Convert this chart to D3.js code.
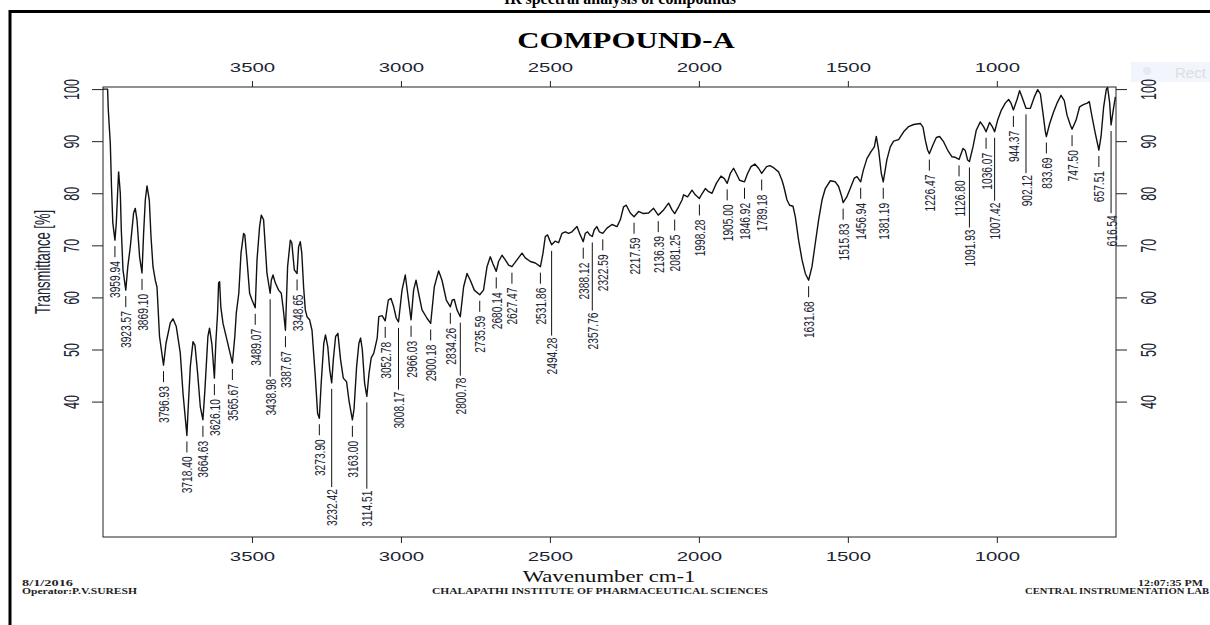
<!DOCTYPE html>
<html>
<head>
<meta charset="utf-8">
<script src="https://cdn.jsdelivr.net/npm/d3@7"></script>
<style>
  html, body { margin: 0; padding: 0; background: #fff; }
  svg { display: block; }
</style>
</head>
<body>
<svg id="chart" width="1210" height="625"></svg>
<script>
// IR spectrum of compound A: wavenumber (cm-1) and transmittance (%)
const wavenumber = [
  4000, 3984.6, 3982.2, 3975.5, 3971.5, 3967.1, 3959.94, 3955.4, 3951, 3947.6, 3941.9, 3938.6, 3932.9,
  3923.57, 3916.8, 3908.4, 3897.3, 3891.6, 3885.9, 3877.2, 3869.10, 3863.7, 3858, 3852.3, 3844.6,
  3838.9, 3832.2, 3824.5, 3818.8, 3816.9, 3810.3, 3796.93, 3788.5, 3774.1, 3765.1, 3754, 3740.6,
  3731.5, 3718.40, 3714.4, 3707, 3697.9, 3691.2, 3682.5, 3673.4, 3664.63, 3658, 3647.9, 3642.5,
  3634.5, 3626.10, 3621.4, 3615.4, 3612, 3608.6, 3604.6, 3597.2, 3583.8, 3565.67, 3557.6, 3552.6,
  3544.2, 3536.8, 3528.1, 3524.1, 3516.7, 3507.9, 3499.9, 3489.07, 3483.1, 3474.4, 3468.7, 3461,
  3455.3, 3449.6, 3438.98, 3435.1, 3429.4, 3421.7, 3410.6, 3401.6, 3395.8, 3387.67, 3380.4, 3371.3,
  3366.3, 3357.9, 3348.65, 3343.5, 3337.8, 3332.8, 3326.7, 3321, 3315.3, 3306.6, 3298.5, 3287.4,
  3279.7, 3273.90, 3267.6, 3258.9, 3253.2, 3245.5, 3238.8, 3232.42, 3227, 3219.3, 3211.6, 3202.5,
  3193.5, 3182.4, 3174.7, 3163.00, 3157.5, 3148.8, 3141.1, 3135.4, 3129.7, 3121.9, 3114.51, 3107.2,
  3099.8, 3091.1, 3079.7, 3074.3, 3063.3, 3052.78, 3042.4, 3033.4, 3024.3, 3015.6, 3008.17, 2996.4,
  2985.4, 2977.6, 2966.03, 2957.5, 2949.4, 2940.7, 2929.3, 2912.5, 2900.18, 2888.1, 2873.6, 2862.2,
  2847.7, 2834.26, 2827.6, 2820.9, 2811.8, 2800.78, 2789.7, 2778.2, 2767.2, 2753.8, 2735.59, 2722.8,
  2711.1, 2700.1, 2691.7, 2680.14, 2672.3, 2660.8, 2649.7, 2638.6, 2627.47, 2610.5, 2593.7, 2582.6,
  2565.8, 2548.9, 2531.86, 2523.2, 2515.5, 2507.7, 2501, 2494.28, 2482.8, 2470.8, 2459.4, 2448.4,
  2437.3, 2425.9, 2409.1, 2400.4, 2388.12, 2381.3, 2373.5, 2366.2, 2357.76, 2351.1, 2342.6, 2334.2,
  2322.59, 2308.4, 2291.6, 2274.8, 2263.7, 2252.7, 2243.6, 2230.2, 2217.59, 2202.4, 2186.6, 2168.8,
  2152.1, 2136.39, 2118.4, 2101.6, 2090.2, 2081.25, 2068.1, 2056.6, 2051.3, 2037.9, 2023.1, 2012,
  1998.28, 1989.5, 1978.4, 1967.3, 1955.9, 1941.5, 1925.7, 1914.6, 1905.00, 1894.5, 1883.5, 1874.4,
  1863.3, 1846.92, 1836.5, 1825.1, 1812.3, 1799.6, 1789.18, 1772.7, 1762, 1749.2, 1732.4, 1721,
  1715, 1704.2, 1695.5, 1684.1, 1676.4, 1665.3, 1653.8, 1642.8, 1631.68, 1620.4, 1609.3, 1598.1,
  1586.7, 1575.7, 1558.9, 1542.1, 1531, 1520.3, 1515.83, 1503.6, 1489.4, 1478.4, 1469.3, 1456.94,
  1448.2, 1435.7, 1422.3, 1411.1, 1404.5, 1396.7, 1387.7, 1381.19, 1369.1, 1357.6, 1346.4, 1329.6,
  1312.8, 1296, 1279.3, 1256.8, 1247.8, 1240, 1232.3, 1226.47, 1214.2, 1203.1, 1192.1, 1178.7,
  1165.2, 1150.4, 1139.4, 1126.80, 1113.6, 1105.8, 1098.1, 1091.93, 1080, 1068.9, 1055.5, 1044.4,
  1036.07, 1024.4, 1015.3, 1007.42, 997.4, 986, 971.6, 960.4, 952.4, 944.37, 932.2, 923.5, 915.5,
  902.12, 887.4, 874, 862.9, 853.9, 844.9, 837.1, 833.69, 822.5, 809.6, 797.9, 784.6, 773.5, 764.4,
  753.3, 747.50, 734.2, 722.1, 709.7, 696.3, 689.6, 680.5, 669.5, 657.51, 650.2, 641.4, 632.4,
  628.1, 621.3, 616.54, 607.6, 602
];
const transmittance = [
  100, 100, 96, 89.6, 81.3, 74.3, 71, 74.3, 80, 84.1, 80, 73, 65.3,
  61.4, 65.9, 69.7, 76.2, 77.1, 74.9, 67.8, 64.7, 72.3, 78.7, 81.4, 78.7,
  71.7, 65.9, 63.3, 62, 60, 52.5, 47, 51.2, 55.1, 55.9, 54.4, 49.3,
  41.6, 33.5, 38.4, 46.7, 51.5, 50.8, 45.5, 39, 36.5, 42.2, 52.5, 54.1,
  51, 44.5, 51.2, 57, 62.8, 63, 58.2, 55, 51.8, 47.4, 52.5, 57,
  60.8, 68.5, 72.3, 72, 67.2, 60.8, 59.5, 58, 67.2, 73.6, 75.8, 74.9,
  69.7, 64.6, 60.8, 63.3, 64.3, 62.8, 61.4, 60.8, 58.2, 53.7, 65.9, 71,
  70.5, 65.3, 64.6, 69.7, 70.7, 68.5, 62, 57.6, 56.3, 55.7, 53.7, 44.8,
  37.7, 36.8, 43.6, 51.2, 52.8, 50.5, 46, 43.6, 48, 52.5, 53.1, 48,
  44.5, 43.8, 40.3, 36.5, 38.5, 46.7, 51.2, 52.2, 50, 43.5, 41, 45.4,
  48.4, 49.3, 52.2, 56.3, 56.5, 55.5, 59.5, 59.8, 58.2, 56, 55.3, 61.4,
  64.3, 60.8, 55.7, 61.4, 63.3, 60.8, 57.6, 56, 55, 62, 65.1, 63.3,
  59.5, 58.2, 59.5, 59.6, 57.6, 56.3, 62, 64.6, 63.3, 61.4, 60.5, 61.4,
  65.9, 67.8, 66.5, 65, 66.9, 68.1, 67.2, 66.2, 65.9, 67.2, 68.5, 67.6,
  66.9, 66.6, 65.9, 68.5, 71.7, 72, 71, 70.1, 70.8, 70.5, 72.3, 72.6,
  72.3, 72.6, 73.6, 72.3, 70.7, 72.3, 72.6, 72, 71.7, 73, 73.6, 72.6,
  72.3, 73.3, 74, 73.6, 74.9, 77.4, 77.7, 76.2, 75.5, 76.5, 76.1, 76.2,
  77.1, 75.8, 76.8, 78.1, 76.8, 76.1, 77.4, 78.7, 79.7, 79.3, 80.6, 79.7,
  79, 79.9, 80.9, 80.3, 80, 81.9, 83.3, 82.8, 81.9, 83.8, 84.8, 83.8,
  82.5, 82.2, 83.8, 85.1, 85.6, 84.8, 83.8, 85.1, 85.3, 84.9, 84.1, 82.5,
  81.3, 78.7, 77.7, 77.5, 75.5, 71, 67.2, 64.6, 63.3, 65.9, 70.4, 74.9,
  78.7, 80.9, 82.4, 82.2, 81.3, 79.3, 78.2, 79.3, 81.3, 82.9, 83.2, 82.2,
  84.4, 86.7, 88, 88.9, 90.9, 88.3, 83.8, 82.2, 86.4, 88.9, 90, 90.3,
  91.8, 92.8, 93.2, 93.4, 92.7, 90.2, 88.3, 87.6, 89.3, 90.7, 90.9, 89.9,
  88.3, 87, 86.9, 86.5, 88.6, 88.2, 86.4, 86.1, 88.9, 92.1, 93.7, 92.8,
  91.8, 93.6, 92.8, 91.8, 94, 95.8, 97.3, 98, 97.3, 96, 98, 99.7, 98.5,
  96.3, 96.3, 98.5, 99.9, 99.1, 95.3, 91.8, 90.9, 93.4, 95.6, 97.3, 98.8, 97.8, 95,
  93.1, 92.3, 94, 96.6, 97, 97.3, 97.6, 94.7, 91.5, 88.3, 90.9, 96.6, 100,
  100.3, 97.4, 93.1, 96.6, 98.5
];

// Band positions picked as minima (cm-1)
const peakLabels = [
  3959.94, 3923.57, 3869.10, 3796.93, 3718.40, 3664.63, 3626.10, 3565.67, 3489.07, 3438.98,
  3387.67, 3348.65, 3273.90, 3232.42, 3163.00, 3114.51, 3052.78, 3008.17, 2966.03, 2900.18,
  2834.26, 2800.78, 2735.59, 2680.14, 2627.47, 2531.86, 2494.28, 2388.12, 2357.76, 2322.59,
  2217.59, 2136.39, 2081.25, 1998.28, 1905.00, 1846.92, 1789.18, 1631.68, 1515.83, 1456.94,
  1381.19, 1226.47, 1126.80, 1091.93, 1036.07, 1007.42, 944.37, 902.12, 833.69, 747.50,
  657.51, 616.54
];

const xTickValues = [3500, 3000, 2500, 2000, 1500, 1000];
const yTickValues = [100, 90, 80, 70, 60, 50, 40];

const SANS = "'Liberation Sans', Arial, sans-serif";
const SERIF = "'Liberation Serif', 'Times New Roman', serif";
const INK = "#1b2433";

const svg = d3.select("#chart");
const plot = { left: 103, top: 87, right: 1116, bottom: 537 };

const x = d3.scaleLinear().domain([4000, 600]).range([plot.left, plot.right]);
const y = d3.scaleLinear().domain([14, 100.4]).range([plot.bottom, plot.top]);

// horizontally widened lettering used throughout the printout
const STRETCH = 1.7;

// ---- page frame and header ----
svg.append("path")
  .attr("d", `M10,625 V11.5 H1210`)
  .attr("fill", "none").attr("stroke", "#000").attr("stroke-width", 3);

svg.append("text")
  .attr("x", 620).attr("y", 3.5)
  .attr("text-anchor", "middle")
  .attr("font-family", SERIF).attr("font-weight", "bold").attr("font-size", 16)
  .attr("textLength", 232).attr("lengthAdjust", "spacingAndGlyphs")
  .text("IR spectral analysis of compounds");

svg.append("g")
  .attr("transform", "translate(626,48) scale(1.34,1)")
  .append("text")
  .attr("text-anchor", "middle")
  .attr("font-family", SERIF).attr("font-weight", "bold").attr("font-size", 23)
  .attr("fill", "#000")
  .text("COMPOUND-A");

// faint selection badge at the top right
const badge = svg.append("g").attr("opacity", 0.9);
badge.append("rect").attr("x", 1131).attr("y", 62).attr("width", 79).attr("height", 20).attr("fill", "#f1f5fb");
badge.append("circle").attr("cx", 1147).attr("cy", 71).attr("r", 4).attr("fill", "#e2e8f0");
badge.append("text").attr("x", 1175).attr("y", 78).attr("font-family", SANS).attr("font-size", 15)
  .attr("fill", "#d6dce4").text("Rect");

// ---- axes ----
const axisColor = "#222";

const axTop = svg.append("g")
  .attr("transform", `translate(0,${plot.top})`)
  .call(d3.axisTop(x).tickValues(xTickValues).tickSize(6).tickSizeOuter(0).tickFormat(d3.format("d")));
const axBottom = svg.append("g")
  .attr("transform", `translate(0,${plot.bottom})`)
  .call(d3.axisBottom(x).tickValues(xTickValues).tickSize(6).tickSizeOuter(0).tickFormat(d3.format("d")));
[axTop, axBottom].forEach((ax, k) => {
  ax.attr("color", axisColor).attr("font-family", SANS).attr("font-size", 12);
  ax.select(".domain").remove();
  ax.selectAll(".tick text")
    .attr("fill", INK)
    .attr("y", k === 0 ? -15.5 : 24)
    .attr("dy", 0)
    .attr("transform", `scale(${STRETCH},1)`);
});

const axLeft = svg.append("g")
  .attr("transform", `translate(${plot.left},0)`)
  .call(d3.axisLeft(y).tickValues(yTickValues).tickSize(11).tickSizeOuter(0).tickFormat(d3.format("d")));
const axRight = svg.append("g")
  .attr("transform", `translate(${plot.right},0)`)
  .call(d3.axisRight(y).tickValues(yTickValues).tickSize(11).tickSizeOuter(0).tickFormat(d3.format("d")));
[axLeft, axRight].forEach((ax, k) => {
  ax.attr("color", axisColor).attr("font-family", SANS).attr("font-size", 12.5);
  ax.select(".domain").remove();
  ax.selectAll(".tick text")
    .attr("fill", INK)
    .attr("x", 0).attr("dy", "0.36em")
    .attr("text-anchor", "middle")
    .attr("transform", `translate(${k === 0 ? -32 : 32},0) scale(${STRETCH},1) rotate(-90)`);
});

// plot frame
svg.append("rect")
  .attr("x", plot.left).attr("y", plot.top)
  .attr("width", plot.right - plot.left).attr("height", plot.bottom - plot.top)
  .attr("fill", "none").attr("stroke", axisColor).attr("stroke-width", 1);

// axis titles
svg.append("g")
  .attr("transform", `translate(42,262) scale(${STRETCH},1) rotate(-90)`)
  .append("text")
  .attr("text-anchor", "middle").attr("dy", "0.36em")
  .attr("font-family", SANS).attr("font-size", 13).attr("fill", INK)
  .text("Transmittance [%]");

svg.append("g")
  .attr("transform", "translate(609,582) scale(1.42,1)")
  .append("text")
  .attr("text-anchor", "middle")
  .attr("font-family", SERIF).attr("font-size", 16).attr("fill", "#111")
  .text("Wavenumber cm-1");

// ---- spectrum ----
const points = wavenumber.map((w, i) => [w, transmittance[i]]);
svg.append("path")
  .datum(points)
  .attr("d", d3.line().x(d => x(d[0])).y(d => y(d[1])))
  .attr("fill", "none").attr("stroke", "#111").attr("stroke-width", 1.4)
  .attr("stroke-linejoin", "round");

// ---- band labels ----
const labelLayer = svg.append("g");
const placed = [];
const LABEL_SIZE = 10.2, LABEL_STRETCH = 1.5, MIN_GAP_X = 15.1;

peakLabels.slice().sort((a, b) => b - a).forEach(p => {
  const i = wavenumber.findIndex(w => Math.abs(w - p) < 1e-6);
  const px = x(p), py = y(transmittance[i]);

  const g = labelLayer.append("g").attr("transform", `translate(${px},0) scale(${LABEL_STRETCH},1)`);
  const t = g.append("text")
    .attr("text-anchor", "end").attr("dy", "0.36em")
    .attr("font-family", SANS).attr("font-size", LABEL_SIZE).attr("fill", INK)
    .text(p.toFixed(2));
  const len = t.node().getComputedTextLength();

  // drop the label below the band; push it further down when it would collide
  let top = py + 21, pushed = false, moved = true;
  while (moved) {
    moved = false;
    for (const b of placed) {
      if (Math.abs(b.x - px) < MIN_GAP_X && top < b.bottom + 3 && b.top < top + len + 3) {
        top = b.bottom + 13; pushed = true; moved = true;
      }
    }
  }
  t.attr("transform", `translate(0,${top}) rotate(-90)`);

  labelLayer.append("line")
    .attr("x1", px).attr("x2", px)
    .attr("y1", py + 6).attr("y2", pushed ? top - 2 : py + 17)
    .attr("stroke", "#111").attr("stroke-width", 1);

  placed.push({ x: px, top: top, bottom: top + len });
});

// ---- footer ----
const footer = [
  { text: "8/1/2016", x: 22, y: 586, anchor: "start", len: 51 },
  { text: "Operator:P.V.SURESH", x: 22, y: 594, anchor: "start", len: 115 },
  { text: "CHALAPATHI INSTITUTE OF PHARMACEUTICAL SCIENCES", x: 432, y: 594, anchor: "start", len: 336 },
  { text: "12:07:35 PM", x: 1203, y: 586, anchor: "end", len: 65 },
  { text: "CENTRAL INSTRUMENTATION LAB", x: 1209, y: 594, anchor: "end", len: 184 }
];
svg.append("g").selectAll("text").data(footer).join("text")
  .attr("x", d => d.x).attr("y", d => d.y)
  .attr("text-anchor", d => d.anchor)
  .attr("font-family", SERIF).attr("font-weight", "bold").attr("font-size", 7.5)
  .attr("fill", "#222")
  .attr("textLength", d => d.len).attr("lengthAdjust", "spacingAndGlyphs")
  .text(d => d.text);
</script>
</body>
</html>
